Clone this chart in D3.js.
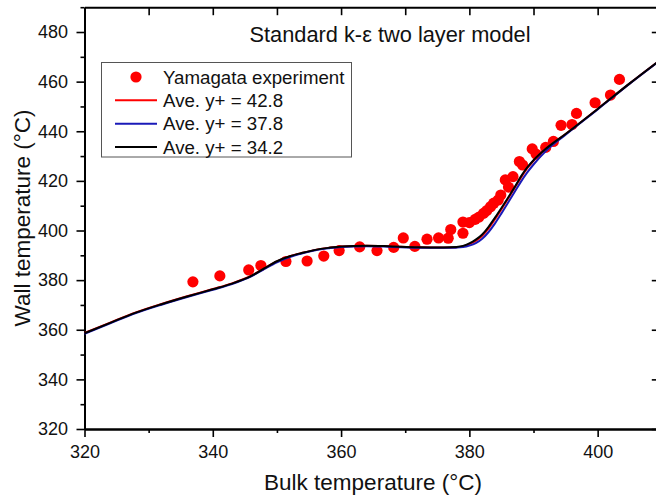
<!DOCTYPE html>
<html>
<head>
<meta charset="utf-8">
<script src="https://cdn.jsdelivr.net/npm/d3@7"></script>
<style>
body { margin: 0; background: #fff; }
svg { display: block; font-family: "Liberation Sans", Arial, sans-serif; }
</style>
</head>
<body>
<svg id="chart" width="656" height="500"></svg>
<script>
// Yamagata experiment (bulk temp, wall temp)
var expX = [336.9, 341.1, 345.6, 347.5, 351.4, 354.7, 357.3, 359.7, 362.9, 365.6,
  368.2, 369.7, 371.5, 373.4, 375.2, 376.7, 377.1, 379.0, 379.0, 380.0,
  380.9, 381.5, 382.2, 382.7, 383.3, 383.8, 384.5, 384.9, 385.6, 386.1,
  386.8, 387.8, 388.3, 389.8, 390.4, 391.9, 393.1, 394.3, 396.0, 396.7,
  399.6, 402.0, 403.4];
var expY = [379.3, 381.7, 384.1, 385.9, 387.5, 387.7, 389.7, 391.9, 393.4, 391.9,
  393.2, 397.0, 393.6, 396.5, 397.0, 396.9, 400.4, 398.9, 403.4, 403.2,
  404.5, 405.4, 406.9, 408.0, 409.6, 411.0, 412.3, 414.3, 420.4, 417.5,
  421.7, 427.8, 426.4, 432.9, 430.8, 433.5, 435.9, 442.4, 442.7, 447.2,
  451.5, 454.6, 460.9];

// simulation curves, shared bulk temperature points
var simX = [320, 324, 328, 332, 336, 340, 343, 346, 348, 350, 352, 354, 356, 358, 360,
  364, 368, 372, 376, 378, 379, 380, 381, 382, 383, 384, 385, 386, 387, 388,
  389, 390, 392, 395, 400, 405, 410];
var simY428 = [358.7, 362.9, 367.0, 370.4, 373.5, 376.4, 378.7, 381.8, 384.7, 387.5, 389.6, 391.0, 392.2, 393.0, 393.6,
  393.9, 393.6, 393.3, 393.2, 393.3, 393.6, 394.5, 395.8, 397.9, 400.9, 404.6, 408.6, 412.7, 416.9, 421.1,
  425.0, 428.1, 433.0, 438.9, 449.0, 459.3, 469.2];
var simY378 = [358.4, 362.6, 366.7, 370.1, 373.2, 376.1, 378.4, 381.5, 384.4, 387.2, 389.3, 390.8, 392.0, 392.8, 393.4,
  393.7, 393.4, 393.1, 393.0, 393.1, 393.3, 393.9, 394.9, 396.7, 399.4, 402.9, 406.9, 411.1, 415.3, 419.5,
  423.3, 426.6, 432.2, 438.6, 448.8, 459.2, 469.1];
var simY342 = [358.6, 362.8, 366.9, 370.3, 373.4, 376.3, 378.6, 381.7, 384.7, 387.6, 389.6, 391.0, 392.2, 393.0, 393.6,
  393.9, 393.6, 393.3, 393.2, 393.4, 393.8, 394.8, 396.3, 398.4, 401.5, 405.2, 409.1, 413.1, 417.2, 421.6,
  425.3, 428.3, 433.1, 438.9, 449.0, 459.3, 469.2];

var xTicks = [320, 340, 360, 380, 400];
var xMinor = [330, 350, 370, 390, 410];
var xTop = [330, 340, 350, 360, 370, 380, 390, 400];
var yTicks = [320, 340, 360, 380, 400, 420, 440, 460, 480];
var yMinor = [330, 350, 370, 390, 410, 430, 450, 470, 490];

var legendNames = ["Yamagata experiment", "Ave. y+ = 42.8", "Ave. y+ = 37.8", "Ave. y+ = 34.2"];
var lineColors = ["#ff0000", "#1a1ab8", "#000000"];

var svg = d3.select("#chart");

var x = d3.scaleLinear().domain([320, 410]).range([84.5, 661.8]);
var y = d3.scaleLinear().domain([320, 490]).range([429, 7.2]);

function styleAxis(g) {
  g.select(".domain").attr("stroke", "#000").attr("stroke-width", 2);
  g.selectAll(".tick line").attr("stroke", "#000").attr("stroke-width", 1.6);
  g.selectAll(".tick text").attr("font-size", 18).attr("fill", "#111");
}

// bottom
svg.append("g").attr("transform", "translate(0,429)")
  .call(d3.axisBottom(x).tickValues(xTicks).tickSize(8).tickPadding(8).tickSizeOuter(0))
  .call(styleAxis);
svg.append("g").attr("transform", "translate(0,429)")
  .call(d3.axisBottom(x).tickValues(xMinor).tickSize(4).tickFormat("").tickSizeOuter(0))
  .call(styleAxis);
// top, ticks inward
svg.append("g").attr("transform", "translate(0," + y(490) + ")")
  .call(d3.axisTop(x).tickValues(xTop).tickSize(-8).tickFormat("").tickSizeOuter(0))
  .call(styleAxis);
// left
svg.append("g").attr("transform", "translate(84.5,0)")
  .call(d3.axisLeft(y).tickValues(yTicks).tickSize(8).tickPadding(8.5).tickSizeOuter(0))
  .call(styleAxis);
svg.append("g").attr("transform", "translate(84.5,0)")
  .call(d3.axisLeft(y).tickValues(yMinor).tickSize(4).tickFormat("").tickSizeOuter(0))
  .call(styleAxis);
// right, ticks inward (axis line itself falls just outside the picture)
svg.append("g").attr("transform", "translate(" + x(410) + ",0)")
  .call(d3.axisRight(y).tickValues(yTicks).tickSize(-10).tickFormat("").tickSizeOuter(0))
  .call(styleAxis);

// experiment points
svg.append("g").selectAll("circle")
  .data(expX.map(function (d, i) { return [d, expY[i]]; }))
  .enter().append("circle")
  .attr("cx", function (d) { return x(d[0]); })
  .attr("cy", function (d) { return y(d[1]); })
  .attr("r", 5.6)
  .attr("fill", "#ff0000");

// simulation lines
var line = d3.line()
  .x(function (d) { return x(d[0]); })
  .y(function (d) { return y(d[1]); })
  .curve(d3.curveMonotoneX);

[simY428, simY378, simY342].forEach(function (ys, k) {
  svg.append("path")
    .datum(simX.map(function (d, i) { return [d, ys[i]]; }))
    .attr("fill", "none")
    .attr("stroke", lineColors[k])
    .attr("stroke-width", 2)
    .attr("d", line);
});

// title
svg.append("text").attr("x", 390).attr("y", 42)
  .attr("text-anchor", "middle").attr("font-size", 21.8).attr("fill", "#111")
  .text("Standard k-\u03b5 two layer model");

// legend
var lg = svg.append("g");
lg.append("rect").attr("x", 101.5).attr("y", 62.5).attr("width", 250).attr("height", 94.5)
  .attr("fill", "#fff").attr("stroke", "#555").attr("stroke-width", 1);
lg.append("circle").attr("cx", 136).attr("cy", 77).attr("r", 5.6).attr("fill", "#ff0000");
lineColors.forEach(function (c, k) {
  var ly = 100.3 + k * 23.4;
  lg.append("line").attr("x1", 115).attr("x2", 157).attr("y1", ly).attr("y2", ly)
    .attr("stroke", c).attr("stroke-width", 2);
});
legendNames.forEach(function (t, k) {
  lg.append("text").attr("x", 163).attr("y", 83.6 + k * 23.4)
    .attr("font-size", 18.7).attr("fill", "#111").text(t);
});

// axis titles
svg.append("text").attr("x", 373).attr("y", 490)
  .attr("text-anchor", "middle").attr("font-size", 22.5).attr("fill", "#111")
  .text("Bulk temperature (\u00b0C)");
svg.append("text").attr("transform", "translate(30,218) rotate(-90)")
  .attr("text-anchor", "middle").attr("font-size", 22.5).attr("fill", "#111")
  .text("Wall temperature (\u00b0C)");
</script>
</body>
</html>
